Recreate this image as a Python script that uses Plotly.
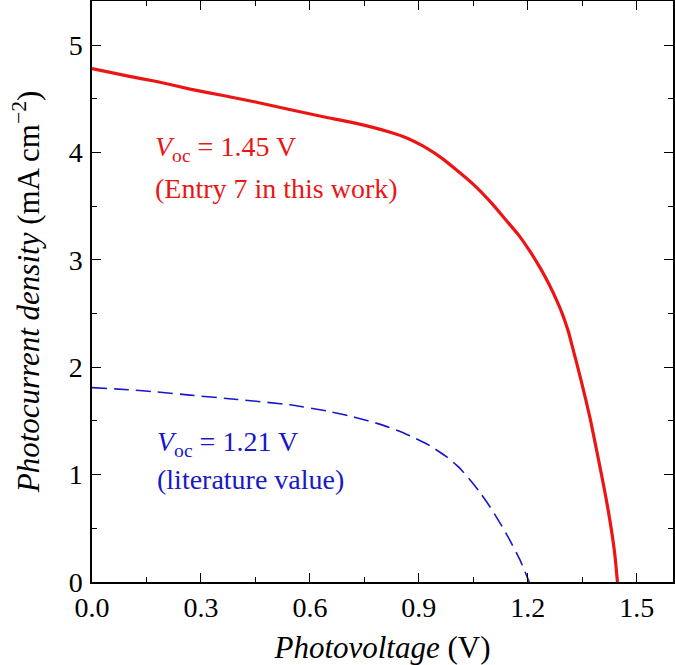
import plotly.graph_objects as go

# Data
red_v = [0.0, 0.1, 0.178, 0.27, 0.361, 0.45, 0.544, 0.64, 0.728, 0.819, 0.87, 0.911, 0.966, 1.048, 1.10, 1.14,
         1.175, 1.204, 1.235, 1.259, 1.28, 1.296, 1.312, 1.323, 1.346, 1.372, 1.396, 1.41, 1.422, 1.432, 1.44, 1.447]
red_j = [4.78, 4.71, 4.66, 4.59, 4.53, 4.47, 4.40, 4.33, 4.27, 4.19, 4.13, 4.06, 3.94, 3.71, 3.53, 3.37,
         3.23, 3.09, 2.92, 2.77, 2.62, 2.49, 2.33, 2.19, 1.89, 1.52, 1.12, 0.88, 0.66, 0.45, 0.25, 0.0]

blue_v = [0.0, 0.1, 0.178, 0.27, 0.40, 0.544, 0.65, 0.728, 0.792, 0.85, 0.883, 0.93, 0.975, 1.01, 1.039, 1.065,
          1.094, 1.12, 1.149, 1.178, 1.204]
blue_j = [1.81, 1.79, 1.77, 1.74, 1.70, 1.65, 1.59, 1.53, 1.47, 1.40, 1.35, 1.27, 1.17, 1.07, 0.96, 0.85,
          0.71, 0.57, 0.40, 0.21, 0.0]

x_ticks = [0.0, 0.3, 0.6, 0.9, 1.2, 1.5]
x_labels = ["0.0", "0.3", "0.6", "0.9", "1.2", "1.5"]
y_ticks = [0, 1, 2, 3, 4, 5]

RED = "#ec1515"
BLUE = "#1818c8"
FONT = "Liberation Serif"

fig = go.Figure()
fig.add_trace(go.Scatter(x=red_v, y=red_j, mode="lines",
                         line=dict(color=RED, width=3.2, shape="spline", smoothing=0.5)))
fig.add_trace(go.Scatter(x=blue_v, y=blue_j, mode="lines",
                         line=dict(color=BLUE, width=1.6, dash="15px,7px", shape="spline", smoothing=0.5)))

ann_font = dict(family=FONT, size=28)
fig.add_annotation(x=0.168, y=4.04, text="<i>V</i><sub>oc</sub> = 1.45 V", showarrow=False,
                   xanchor="left", yanchor="middle", font=dict(color=RED, **ann_font))
fig.add_annotation(x=0.168, y=3.66, text="(Entry 7 in this work)", showarrow=False,
                   xanchor="left", yanchor="middle", font=dict(color=RED, **ann_font))
fig.add_annotation(x=0.173, y=1.29, text="<i>V</i><sub>oc</sub> = 1.21 V", showarrow=False,
                   xanchor="left", yanchor="middle", font=dict(color=BLUE, **ann_font))
fig.add_annotation(x=0.173, y=0.95, text="(literature value)", showarrow=False,
                   xanchor="left", yanchor="middle", font=dict(color=BLUE, **ann_font))

axis_common = dict(
    showgrid=False, zeroline=False, showline=True, linecolor="black", linewidth=1.5,
    mirror="ticks", ticks="inside", ticklen=9, tickwidth=1.3, tickcolor="black",
    tickfont=dict(family=FONT, size=28, color="black"), automargin=False,
)

fig.update_xaxes(
    range=[0, 1.6], tickvals=x_ticks, ticktext=x_labels,
    minor=dict(ticks="inside", ticklen=5, dtick=0.15, tick0=0, tickcolor="black", tickwidth=1.2),
    title=dict(text="<i>Photovoltage</i> (V)", font=dict(family=FONT, size=31, color="black"), standoff=17),
    ticklabelstandoff=0,
    **axis_common,
)
fig.update_yaxes(
    range=[0, 5.41], tickvals=y_ticks,
    minor=dict(ticks="inside", ticklen=5, dtick=0.5, tick0=0, tickcolor="black", tickwidth=1.2),
    title=dict(text="<i>Photocurrent density</i> (mA cm<sup>−2</sup>)", font=dict(family=FONT, size=31, color="black"), standoff=20),
    ticklabelstandoff=2,
    **axis_common,
)

fig.update_layout(
    width=675, height=665,
    margin=dict(l=92, r=2, t=1, b=83, autoexpand=False),
    plot_bgcolor="white", paper_bgcolor="white",
    showlegend=False,
)

fig.write_html("out.html", config={"displayModeBar": False},
               post_script="document.body.style.margin='0';document.body.style.overflow='hidden';")
